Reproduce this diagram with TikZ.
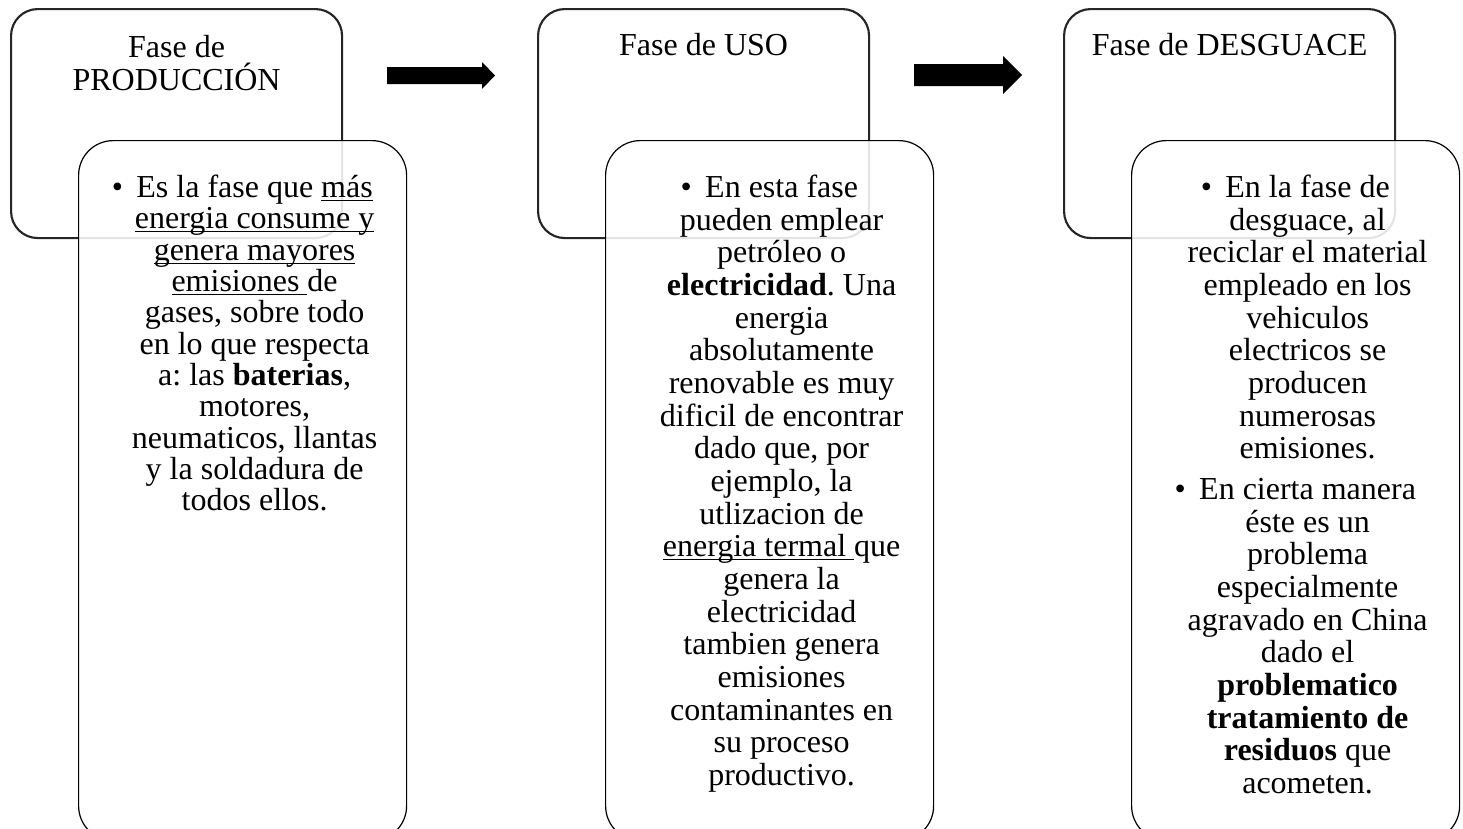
\documentclass[tikz,border=0pt]{standalone}
\usepackage{fontspec}
\setmainfont{Liberation Serif}
\usetikzlibrary{positioning}

\newsavebox\ulbox
\newcommand\uln[1]{\sbox\ulbox{#1}\rlap{\rule[-2.6pt]{\wd\ulbox}{0.8pt}}\usebox\ulbox}
\newcommand\itembul{\llap{\textbullet\hspace{0.42em}}}

\tikzset{
    phase/.style={draw=black!85, line width=1.6pt, rounded corners=20pt,
        anchor=north west, minimum width=248.25pt, minimum height=171.75pt, inner sep=0pt},
    detail/.style={draw=black, line width=0.9pt, rounded corners=26pt, fill=white,
        fill opacity=0.88, anchor=north west, minimum width=246pt, minimum height=525pt, inner sep=0pt},
    phasetitle/.style={align=center, inner sep=0pt, font=\fontsize{24}{24.75}\selectfont},
    detailtext/.style={align=center, inner sep=0pt, font=\fontsize{24}{#1}\selectfont\frenchspacing},
}

\begin{document}
\begin{tikzpicture}[x=0.75pt,y=-0.75pt]
    \useasboundingbox (0,0) rectangle (1463,828);

    % upper boxes
    \node[phase] (prod) at (10,8) {};
    \node[phase] (uso)  at (537,8) {};
    \node[phase] (desg) at (1063,8) {};

    \node[phasetitle, below=20pt of prod.north] (prodT) {Fase de\\PRODUCCIÓN};
    \node[phasetitle, below=19pt of uso.north]  (usoT)  {Fase de USO};
    \node[phasetitle, below=19pt of desg.north] (desgT) {Fase de DESGUACE};

    % arrows between phases
    \fill (387,67) -- (482,67) -- (482,62) -- (495,75.5) -- (482,89) -- (482,84) -- (387,84) -- cycle;
    \fill (914,64) -- (1003,64) -- (1003,56) -- (1022,75) -- (1003,94) -- (1003,86) -- (914,86) -- cycle;

    % lower boxes
    \node[detail] (prodD) at (78,140) {};
    \node[detail] (usoD)  at (605,140) {};
    \node[detail] (desgD) at (1131,140) {};

    \node[detailtext=23.5pt, below=26pt of prodD.north, xshift=9pt] (prodX) {%
        \itembul Es la fase que \uln{más}\\
        \uln{energia consume y}\\
        \uln{genera mayores}\\
        \uln{emisiones\ }de\\
        gases, sobre todo\\
        en lo que respecta\\
        a: las \textbf{baterias},\\
        motores,\\
        neumaticos, llantas\\
        y la soldadura de\\
        todos ellos.};

    \node[detailtext=24.5pt, below=26pt of usoD.north, xshift=9pt] (usoX) {%
        \itembul En esta fase\\
        pueden emplear\\
        petróleo o\\
        \textbf{electricidad}. Una\\
        energia\\
        absolutamente\\
        renovable es muy\\
        dificil de encontrar\\
        dado que, por\\
        ejemplo, la\\
        utlizacion de\\
        \uln{energia termal\ }que\\
        genera la\\
        electricidad\\
        tambien genera\\
        emisiones\\
        contaminantes en\\
        su proceso\\
        productivo.};

    \node[detailtext=24.5pt, below=26pt of desgD.north, xshift=9pt] (desgX) {%
        \itembul En la fase de\\
        desguace, al\\
        reciclar el material\\
        empleado en los\\
        vehiculos\\
        electricos se\\
        producen\\
        numerosas\\
        emisiones.\\[6pt]
        \itembul En cierta manera\\
        éste es un\\
        problema\\
        especialmente\\
        agravado en China\\
        dado el\\
        \textbf{problematico}\\
        \textbf{tratamiento de}\\
        \textbf{residuos} que\\
        acometen.};
\end{tikzpicture}
\end{document}
